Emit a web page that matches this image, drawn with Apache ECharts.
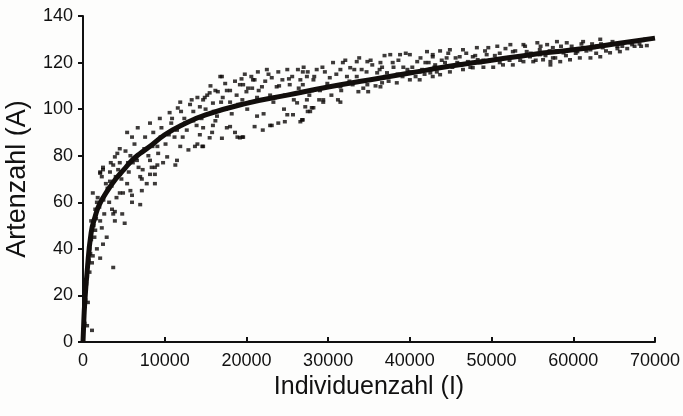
<!DOCTYPE html>
<html>
<head>
<meta charset="utf-8">
<script src="https://cdn.jsdelivr.net/npm/echarts@6/dist/echarts.min.js"></script>
<style>
  html, body { margin: 0; padding: 0; background: #fdfdfc; }
  #chart { width: 683px; height: 416px; }
</style>
</head>
<body>
<div id="chart"></div>
<script>
// Artenzahl vs Individuenzahl - scatter with fitted curve

var xTicks = [0, 10000, 20000, 30000, 40000, 50000, 60000, 70000];
var yTicks = [0, 20, 40, 60, 80, 100, 120, 140];

// fitted curve
var curveI = [0, 100, 200, 500, 1000, 1500, 2000, 3000, 4000, 5000, 6000, 7000, 8000, 10000, 12000, 15000,
    20000, 25000, 30000, 35000, 40000, 45000, 50000, 55000, 60000, 65000, 70000];
var curveA = [0, 9, 16, 30, 47, 54, 59, 65, 70, 74, 78, 81, 83.5, 89, 93, 97.5,
    102.5, 106, 109.5, 112.5, 115.5, 118.5, 121, 123.5, 125.5, 128, 130.5];

// samples (I, A)
var pointsLow = [
    [200, 8], [300, 18], [400, 25], [500, 28], [500, 7], [700, 35], [900, 38], [1100, 5], [600, 17],
    [3700, 32], [2100, 36], [2450, 42], [2900, 45], [1700, 40], [1200, 37], [1100, 34], [2300, 49],
    [2100, 52], [3900, 52], [3700, 55], [3550, 57], [4800, 55], [5100, 51], [7000, 59], [6000, 60],
    [4500, 64], [4900, 64], [5800, 65], [5400, 68], [7200, 70], [7800, 68], [8800, 68], [8200, 72],
    [8400, 75], [9100, 76], [9800, 77], [1200, 64], [1700, 60], [1500, 57], [2100, 73], [2450, 75],
    [2300, 71], [3300, 69], [3300, 73], [3700, 76], [4200, 81], [4500, 77], [5800, 80], [6100, 77],
    [6600, 78], [7200, 65], [8800, 72], [6000, 63], [3900, 56], [2450, 74], [2100, 72.5], [3900, 79.5],
    [4500, 83], [5400, 90], [6000, 88], [6700, 92], [8200, 94], [9400, 96], [7300, 74], [7000, 71],
    [8800, 75], [8200, 78], [9100, 84], [1000, 52], [1400, 45], [800, 30],
    [1500, 48], [1800, 62], [2600, 55], [2800, 68], [3200, 60], [3400, 77], [4100, 62], [4300, 74],
    [4700, 70], [5200, 82], [5600, 73], [6300, 85], [6800, 75], [7600, 88], [8000, 80], [8600, 90],
    [9200, 81], [9600, 92]
];
var pointsMid = [
    [17000, 114], [19800, 115], [21400, 116], [18600, 112], [20700, 109], [16200, 108], [15200, 106],
    [14000, 105], [11900, 103], [11600, 100.5], [10600, 98.5], [13100, 102], [14700, 104], [17600, 108],
    [19200, 110.5], [20800, 112.6], [20000, 107.5], [21000, 92.5], [19500, 88], [18600, 90], [17000, 87.5],
    [14700, 84], [14000, 85], [12900, 82.5], [11500, 78], [10300, 79.5], [11300, 76], [11900, 84],
    [12200, 88], [15800, 90], [18000, 92.5], [21300, 97], [16400, 97], [16800, 114], [22500, 117],
    [23900, 116], [25000, 117], [26300, 117], [27500, 116], [19600, 110.5], [21000, 112.6], [22300, 112],
    [23100, 113.5], [24400, 112.6], [25600, 114], [26600, 112.6], [15500, 107], [16500, 107.5],
    [18000, 108], [20200, 109], [21900, 109.6], [23700, 109.6], [25300, 110.5], [14900, 105],
    [17100, 105], [14300, 101], [13500, 99], [15900, 102.6], [18000, 103], [19500, 104], [21300, 105],
    [22900, 106], [24700, 106], [26200, 107], [14700, 92], [15900, 93], [14300, 89], [15500, 87.7],
    [18900, 88], [19200, 87.7], [13700, 84], [14600, 84], [17600, 92], [22000, 91], [22900, 93],
    [23900, 94], [24700, 94.6], [26600, 94.6], [25000, 97.6], [26200, 102.7], [27200, 101],
    [19600, 88], [23100, 93], [26800, 95.4], [25700, 97.6], [27500, 99], [28000, 100.6], [29400, 103],
    [27400, 114], [26900, 116], [28200, 112.6], [27400, 104], [26900, 110.5], [29000, 108], [29400, 104],
    [28200, 100.6], [27800, 99], [26900, 95.4], [28600, 117], [29600, 116], [12400, 96], [10800, 94],
    [10100, 85], [10900, 96], [11200, 88], [12000, 99], [12700, 91], [13300, 104], [13900, 93],
    [15000, 100], [15600, 110], [16200, 95], [16900, 103], [17400, 111], [18200, 98], [18800, 106],
    [19400, 113], [20100, 100], [20600, 114], [21500, 108], [22100, 98], [22700, 115], [23300, 103],
    [24000, 110], [24600, 100], [25200, 113], [25800, 104], [26400, 109], [27000, 118], [27700, 106],
    [28300, 114], [28900, 104], [29300, 118], [29900, 111]
];
var pointsHigh = [
    [30600, 120], [31800, 120], [33500, 120.4], [34800, 120.4], [36400, 120], [37600, 123.4],
    [38800, 123.4], [40000, 123.4], [42100, 124.7], [42800, 123.4], [31500, 117], [32700, 117.8],
    [34100, 117], [35400, 119], [36600, 118], [37900, 120], [39200, 118], [40900, 120.4], [41900, 120],
    [30200, 113.5], [32300, 114], [33500, 114], [36000, 115.6], [37200, 115.6], [39700, 117],
    [41200, 116], [42500, 117], [30200, 109.6], [31500, 109.6], [33000, 110.5], [34800, 110.5],
    [33700, 107.5], [34900, 107.5], [36400, 109.6], [36600, 111.3], [38400, 111.3], [40000, 112.6],
    [41200, 112.6], [42800, 114], [31200, 104], [31500, 103], [43700, 125], [44900, 125.5],
    [46500, 125.5], [48200, 126.4], [49600, 126.4], [42800, 122.5], [44500, 122], [46100, 122.5],
    [47700, 122.5], [49400, 123.4], [42500, 115.6], [43700, 114.8], [44900, 116], [46500, 117],
    [47700, 117.8], [49000, 118], [43100, 119], [44300, 120], [45800, 120], [47100, 120.4], [48300, 121.2],
    [30400, 106], [31000, 115], [31600, 108], [32100, 121], [32600, 112], [33200, 117], [33800, 122],
    [34300, 109], [34700, 116], [35200, 121], [35800, 110], [36300, 117], [36900, 123], [37400, 112],
    [38000, 118], [38600, 121], [39100, 114], [39500, 124], [40300, 118], [40700, 114], [41300, 122],
    [41800, 115], [42300, 120], [43300, 116], [43900, 121], [44700, 124], [45200, 118], [45600, 122],
    [46300, 119], [46900, 124], [47400, 118], [48000, 123], [48600, 120], [49200, 125], [49800, 121]
];
var pointsTop = [
    [50700, 127], [52300, 127.7], [53900, 127.7], [55600, 128.5], [56800, 127.7], [51000, 124],
    [52600, 124.7], [54300, 124.7], [55900, 125.5], [57500, 126.4], [50200, 118], [51400, 119],
    [52600, 119], [53900, 120.4], [55100, 120.4], [56300, 121.2], [57500, 122], [53200, 122.5],
    [54700, 122.5], [55900, 123.4], [58000, 125], [58800, 124.2], [59600, 125.5], [60500, 124.7],
    [61200, 126.4], [62100, 125.5], [62900, 127], [63600, 126.4], [64500, 127.7], [65400, 127],
    [66100, 128.5], [67200, 127.7], [57200, 120.4], [58400, 120.4], [59600, 121.2], [60800, 122],
    [62100, 122], [63300, 122.5], [64500, 124.2], [65700, 124.7], [58000, 129], [59200, 128.5],
    [61200, 129], [63300, 130], [67500, 127], [68300, 127], [69000, 127.3], [57200, 119],
    [50400, 123], [51000, 120], [51700, 126], [52200, 121], [52900, 125], [53500, 121], [54100, 127],
    [54800, 124], [55400, 121], [56000, 127], [56600, 123], [57100, 125], [57800, 122], [58500, 127],
    [59100, 123], [59800, 127], [60300, 124], [61000, 128], [61600, 125], [62300, 128], [62800, 124],
    [63400, 128], [64000, 125], [64800, 129], [65400, 126], [66000, 127], [66600, 126], [67600, 129],
    [68100, 128], [68800, 130]
];
var pointsBand = [
    [300, 22], [600, 33], [800, 40], [1000, 44], [1300, 50], [1600, 53], [2000, 58], [2500, 61],
    [3000, 66], [3500, 67], [4000, 71], [4500, 72], [5500, 77], [6500, 79], [7500, 83], [8500, 84],
    [9500, 88], [10500, 89], [11500, 91], [12500, 94], [13500, 95], [14500, 96], [16000, 99],
    [17500, 100], [19000, 102], [20500, 103], [22000, 104], [23500, 105], [25000, 106], [26500, 107],
    [28000, 108], [29500, 109], [31000, 110], [32500, 111], [34000, 112], [35500, 113], [37000, 114],
    [38500, 115], [40000, 116], [41500, 117], [43000, 118], [44500, 118.5], [46000, 119.5],
    [47500, 120], [49000, 121], [50500, 121.5], [52000, 122], [53500, 122.5], [55000, 123.5],
    [56500, 124], [58000, 124.5], [59500, 125.5], [61000, 126], [62500, 126.5], [64000, 127.5],
    [65500, 128], [67000, 128.5], [68500, 129.5]
];

var curveData = curveI.map(function (v, i) { return [v, curveA[i]]; });
var samples = pointsLow.concat(pointsMid, pointsHigh, pointsTop, pointsBand);

var chart = echarts.init(document.getElementById('chart'));

var labelFont = '"Liberation Sans", Arial, sans-serif';

var option = {
    backgroundColor: '#fdfdfc',
    animation: false,
    grid: { left: 83, right: 28, top: 16, bottom: 74, containLabel: false, outerBoundsMode: 'none' },
    xAxis: {
        type: 'value',
        min: 0,
        max: 70000,
        interval: 10000,
        name: 'Individuenzahl (I)',
        nameLocation: 'middle',
        nameGap: 27,
        nameTextStyle: { color: '#111', fontSize: 25, fontFamily: labelFont },
        axisLine: { lineStyle: { color: '#111', width: 2 } },
        axisTick: { inside: true, length: 5, lineStyle: { color: '#111', width: 2 } },
        axisLabel: { color: '#111', fontSize: 18, fontFamily: labelFont, margin: 10,
            formatter: function (v) { return xTicks.indexOf(v) >= 0 ? String(v) : ''; } },
        splitLine: { show: false }
    },
    yAxis: {
        type: 'value',
        min: 0,
        max: 140,
        interval: 20,
        name: 'Artenzahl (A)',
        nameLocation: 'middle',
        nameGap: 52,
        nameTextStyle: { color: '#111', fontSize: 27, fontFamily: labelFont },
        axisLine: { show: true, lineStyle: { color: '#111', width: 2 } },
        axisTick: { show: true, inside: false, length: 5, lineStyle: { color: '#111', width: 2 } },
        axisLabel: { color: '#111', fontSize: 18, fontFamily: labelFont, margin: 10,
            formatter: function (v) { return yTicks.indexOf(v) >= 0 ? String(v) : ''; } },
        splitLine: { show: false }
    },
    series: [
        {
            name: 'Proben',
            type: 'scatter',
            symbol: 'rect',
            symbolSize: [4, 3.5],
            itemStyle: { color: '#0c0907' },
            data: samples
        },
        {
            name: 'Kurve',
            type: 'line',
            smooth: true,
            showSymbol: false,
            lineStyle: { color: '#120e0c', width: 5 },
            data: curveData
        }
    ]
};

chart.setOption(option);
</script>
</body>
</html>
